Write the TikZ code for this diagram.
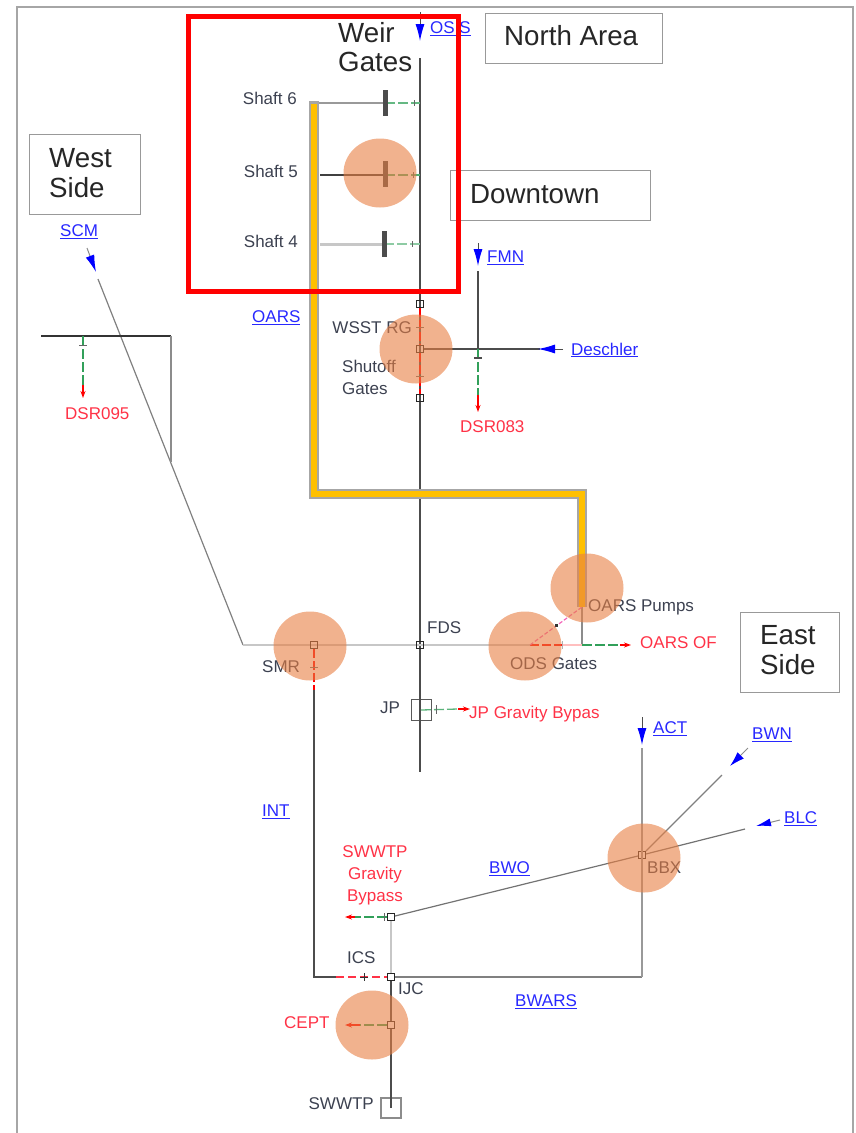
\documentclass[tikz,border=0pt]{standalone}
\usepackage{fontspec}
\setmainfont{Liberation Sans}
\usetikzlibrary{arrows.meta,shapes.geometric}
\definecolor{pipeorange}{RGB}{255,192,0}
\definecolor{hilite}{RGB}{232,127,67}
\definecolor{linkblue}{RGB}{40,40,255}
\definecolor{labred}{RGB}{255,50,70}
\definecolor{dgreen}{RGB}{50,160,90}
\definecolor{txtgray}{RGB}{60,65,80}
\newcommand{\lnk}[1]{\underline{#1}}
\tikzset{
  x=1pt,y=-1pt,
  junct/.style={draw=black!85,line width=.9pt,fill=none,minimum size=7pt,inner sep=0pt,rectangle},
  txt/.style={inner sep=0pt,font=\fontsize{17}{22}\selectfont,text=txtgray},
  redlab/.style={txt,text=labred},
  bluelab/.style={txt,text=linkblue},
  areabox/.style={draw=black!40,line width=.9pt,fill=white,inner sep=0pt},
  bigtxt/.style={inner sep=0pt,font=\fontsize{27.7}{29.5}\selectfont,text=black!85,align=left},
  darkline/.style={draw=black!70,line width=1.5pt},
  grayline/.style={draw=black!40,line width=1.3pt},
  paleline/.style={draw=black!22,line width=2.4pt},
  greendash/.style={draw=dgreen,line width=1.3pt,dash pattern=on 10pt off 3pt},
  reddash/.style={draw=red,line width=1.3pt,dash pattern=on 9pt off 3pt},
  redtip/.style={draw=red,line width=1.3pt,-{Stealth[length=7pt,width=5pt,fill=red]}},
  bluetip/.style={draw=black!70,line width=1pt,-{Latex[length=17pt,width=9pt,color=blue]}},
  gatebar/.style={draw=black!70,line width=5pt},
  tick/.style={draw=black!60,line width=1pt},
  hicircle/.style={ellipse,fill=hilite,fill opacity=.6,draw=none,minimum width=73pt,minimum height=69pt,inner sep=0pt},
}
\begin{document}
\begin{tikzpicture}
\useasboundingbox (0,0) rectangle (855,1133);
% page frame
\coordinate (ftl) at (17,7); \coordinate (ftr) at (853,7); \coordinate (fbl) at (17,1133); \coordinate (fbr) at (853,1133);
\draw[draw=black!35,line width=1.2pt] (fbl) -- (ftl) -- (ftr) -- (fbr);

% named points
\coordinate (osisT) at (420,12); \coordinate (osisH) at (420,41);
\coordinate (mainT) at (420,58); \coordinate (mainB) at (420,772);
\coordinate (s6) at (318,103); \coordinate (g6) at (385,103); \coordinate (m6) at (420,103);
\coordinate (s5) at (320,175); \coordinate (g5) at (385,175); \coordinate (m5) at (420,175);
\coordinate (s4) at (320,244); \coordinate (g4) at (384,244); \coordinate (m4) at (420,244);
\coordinate (p0g) at (314,101); \coordinate (p0) at (314,104); \coordinate (p1) at (314,494); \coordinate (p2) at (582,494); \coordinate (p3) at (582,607);
\coordinate (fmnT) at (478,243); \coordinate (fmnH) at (478,266); \coordinate (fmnC) at (478,271); \coordinate (fmnJ) at (478,349);
\coordinate (desT) at (563,349); \coordinate (desH) at (538,349); \coordinate (desC) at (540,349);
\coordinate (d83e) at (478,395); \coordinate (d83h) at (478,412);
\coordinate (scmT) at (87,248); \coordinate (scmH) at (96,272); \coordinate (scmC) at (98,279);
\coordinate (bend) at (243,645); \coordinate (wjoin) at (171,462); \coordinate (wcor) at (171,336); \coordinate (wend) at (41,336);
\coordinate (d95t) at (83,336); \coordinate (d95e) at (83,385); \coordinate (d95h) at (83,398);
\coordinate (odsC) at (530,645); \coordinate (ods2) at (562,645); \coordinate (ods3) at (582,645); \coordinate (oe) at (620,645); \coordinate (oh) at (631,645);
\coordinate (smrE) at (314,690); \coordinate (icsL) at (314,977); \coordinate (icsR) at (336,977);
\coordinate (arsC) at (642,977); \coordinate (actT) at (642,717); \coordinate (actH) at (642,745); \coordinate (actC) at (642,748);
\coordinate (bwnC) at (722,775); \coordinate (bwnH) at (730,766); \coordinate (bwnT) at (748,748);
\coordinate (blcC) at (745,829); \coordinate (blcH) at (756,826); \coordinate (blcT) at (780,820);
\coordinate (jpE) at (458,709); \coordinate (jpH) at (470,709);
\coordinate (sbE) at (355,917); \coordinate (sbH) at (345,917);
\coordinate (ceE) at (360,1025); \coordinate (ceH) at (345,1025);

% boxes with text
\node[junct,draw=black!65,minimum width=20pt,minimum height=21pt] (jp) at (421,710) {};
\node[junct,draw=black!45,line width=1.2pt,minimum width=20pt,minimum height=20pt] (swwtp) at (391,1108) {};

% main vertical
\draw[bluetip] (osisT) -- (osisH);
\draw[darkline] (mainT) -- (mainB);

% shafts
\draw[grayline,line width=1.6pt] (s6) -- (g6);
\draw[draw=black!75,line width=1.6pt] (s5) -- (g5);
\draw[paleline,line width=3pt] (s4) -- (g4);
\draw[greendash,draw=dgreen!75] (g6) -- (m6);
\draw[greendash,draw=dgreen!85] (g5) -- (m5);
\draw[greendash,draw=dgreen!55] (g4) -- (m4);
\draw[tick] (414,100) -- (414,106);
\draw[tick] (413,172) -- (413,178);
\draw[tick] (412,241) -- (412,247);
\draw[gatebar] (385,90) -- (385,116);
\draw[gatebar] (385,161) -- (385,187);
\draw[gatebar] (384,231) -- (384,257);

% OARS pipe
\draw[draw=black!35,line width=10pt,line join=miter] (p0g) -- (p1) -- (p2) -- (p3);
\draw[draw=pipeorange,line width=6.5pt,line join=miter] (p0) -- (p1) -- (p2) -- (p3);

% downtown junctions
\node[junct] (j304) at (420,304) {};
\node[junct] (j349) at (420,349) {};
\node[junct] (j398) at (420,398) {};
\draw[reddash] (j304) -- (j349);
\draw[reddash] (j349) -- (j398);
\draw[tick] (416,327) -- (424,327);
\draw[tick] (416,376) -- (424,376);
\draw[darkline] (j349) -- (desC);
\draw[bluetip] (desT) -- (desH);
\draw[bluetip] (fmnT) -- (fmnH);
\draw[darkline] (fmnC) -- (fmnJ);
\draw[greendash] (fmnJ) -- (d83e);
\draw[redtip] (d83e) -- (d83h);
\draw[darkline] (474,358) -- (482,358);

% west side
\draw[bluetip,draw=black!45] (scmT) -- (scmH);
\draw[draw=black!50,line width=1.2pt] (scmC) -- (bend);
\draw[paleline] (bend) -- (odsC);
\draw[draw=black!80,line width=1.2pt] (wend) -- (wcor);
\draw[draw=black!45,line width=1.1pt] (wcor) -- (wjoin);
\draw[greendash] (d95t) -- (d95e);
\draw[redtip] (d95e) -- (d95h);
\draw[tick] (79,345) -- (87,345);

% mid line
\node[junct] (smr) at (314,645) {};
\node[junct] (fds) at (420,645) {};
\draw[reddash] (smr) -- (smrE);
\draw[tick] (310,667) -- (318,667);
\draw[darkline,line width=1.8pt] (smrE) -- (icsL) -- (icsR);
\draw[draw=black!45,line width=1.2pt] (p3) -- (ods3);
\draw[reddash] (odsC) -- (ods2);
\draw[draw=red!25,line width=1.3pt] (ods2) -- (ods3);
\draw[greendash] (ods3) -- (oe);
\draw[redtip] (oe) -- (oh);
\draw[draw=magenta!60,line width=1.2pt,dash pattern=on 4pt off 2pt] (odsC) -- (p3);
\node[fill=black!80,minimum size=3pt,inner sep=0pt] (mk) at (556,625) {};
\draw[draw=black!30,line width=1pt] (562,641) -- (562,649);

% JP
\draw[greendash,dgreen!80] (jp.center) -- (jpE);
\draw[redtip] (jpE) -- (jpH);
\draw[tick] (436,705) -- (436,714);

% south
\node[junct] (ijc) at (391,977) {};
\node[junct] (sb) at (391,917) {};
\node[junct] (cept) at (391,1025) {};
\node[junct] (bbx) at (642,855) {};
\draw[reddash,draw=labred,line width=1.1pt,dash pattern=on 8pt off 4pt] (icsR) -- (ijc);
\draw[draw=black!80,line width=1pt] (360,977) -- (368,977) (364,973) -- (364,981);
\draw[draw=black!50,line width=1.2pt] (ijc) -- (arsC);
\draw[grayline] (arsC) -- (actC);
\draw[bluetip] (actT) -- (actH);
\draw[paleline] (sb) -- (ijc);
\draw[darkline,line width=1.8pt] (ijc) -- (cept) -- (swwtp.center);
\draw[draw=black!55,line width=1.2pt] (sb) -- (bbx);
\draw[draw=black!50,line width=1.2pt] (bbx) -- (bwnC);
\draw[bluetip,draw=black!45,-{Latex[length=15pt,width=9pt,color=blue]}] (bwnT) -- (bwnH);
\draw[draw=black!55,line width=1.2pt] (bbx) -- (blcC);
\draw[bluetip,draw=black!45,-{Latex[length=15pt,width=8pt,color=blue]}] (blcT) -- (blcH);
\draw[greendash] (sb) -- (sbE);
\draw[redtip] (sbE) -- (sbH);
\draw[tick] (384,913) -- (384,921);
\draw[greendash] (cept) -- (ceE);
\draw[redtip] (ceE) -- (ceH);

% area boxes
\node[areabox,minimum width=177pt,minimum height=50pt] (northbox) at (573.5,38) {};
\node[bigtxt,anchor=west] (northtxt) at (504,36) {North Area};
\node[areabox,minimum width=200pt,minimum height=50pt] (downbox) at (550,195) {};
\node[bigtxt,anchor=west] (downtxt) at (470,194) {Downtown};
\node[areabox,minimum width=111pt,minimum height=80pt] (westbox) at (84.5,174) {};
\node[bigtxt,anchor=west] (westtxt) at (49,173) {West\\Side};
\node[areabox,minimum width=99pt,minimum height=80pt] (eastbox) at (789.5,652) {};
\node[bigtxt,anchor=west] (easttxt) at (760,650) {East\\Side};
\node[bigtxt,anchor=west] (weirtxt) at (338,47) {Weir\\Gates};

% labels
\node[bluelab,anchor=west] (losis) at (430,29) {\lnk{OSIS}};
\node[txt,anchor=east] (lsh6) at (297,98) {Shaft 6};
\node[txt,anchor=east] (lsh5) at (298,171) {Shaft 5};
\node[txt,anchor=east] (lsh4) at (298,241) {Shaft 4};
\node[bluelab,anchor=west] (lfmn) at (487,258) {\lnk{FMN}};
\node[bluelab,anchor=west] (ldes) at (571,350) {\lnk{Deschler}};
\node[bluelab,anchor=west] (lscm) at (60,232) {\lnk{SCM}};
\node[bluelab,anchor=west] (loars) at (252,318) {\lnk{OARS}};
\node[txt,anchor=east] (lwsst) at (412,328) {WSST RG};
\node[txt,anchor=west,align=left] (lshut) at (342,377) {Shutoff\\Gates};
\node[redlab,anchor=west] (l83) at (460,427) {DSR083};
\node[redlab,anchor=west] (l95) at (65,414) {DSR095};
\node[txt,anchor=west] (lfds) at (427,628) {FDS};
\node[txt,anchor=west] (lsmr) at (262,667) {SMR};
\node[txt,anchor=west] (lods) at (510,664) {ODS Gates};
\node[txt,anchor=west] (lpump) at (588,607) {OARS Pumps};
\node[redlab,anchor=west] (lof) at (640,643) {OARS OF};
\node[txt,anchor=west] (ljp) at (380,708) {JP};
\node[redlab,anchor=west] (ljpg) at (469,714) {JP Gravity Bypas};
\node[bluelab,anchor=west] (lact) at (653,729) {\lnk{ACT}};
\node[bluelab,anchor=west] (lbwn) at (752,735) {\lnk{BWN}};
\node[bluelab,anchor=west] (lblc) at (784,819) {\lnk{BLC}};
\node[bluelab,anchor=west] (lint) at (262,812) {\lnk{INT}};
\node[bluelab,anchor=west] (lbwo) at (489,869) {\lnk{BWO}};
\node[bluelab,anchor=west] (lbwars) at (515,1002) {\lnk{BWARS}};
\node[txt,anchor=west] (lbbx) at (647,868) {BBX};
\node[redlab,align=center] (lgrav) at (375,875) {SWWTP\\Gravity\\Bypass};
\node[txt,anchor=west] (lics) at (347,958) {ICS};
\node[txt,anchor=west] (lijc) at (398,989) {IJC};
\node[redlab,anchor=west] (lcept) at (284,1023) {CEPT};
\node[txt,anchor=east] (lsw) at (374,1104) {SWWTP};

% red frame
\node[draw=red,line width=5pt,minimum width=270pt,minimum height=275pt,inner sep=0pt] (redframe) at (323,154) {};

% highlights
\node[hicircle] (h1) at (380,173) {};
\node[hicircle] (h2) at (416,349) {};
\node[hicircle] (h3) at (587,588) {};
\node[hicircle] (h4) at (310,646) {};
\node[hicircle] (h5) at (525,646) {};
\node[hicircle] (h6) at (644,858) {};
\node[hicircle] (h7) at (372,1025) {};
\end{tikzpicture}
\end{document}
